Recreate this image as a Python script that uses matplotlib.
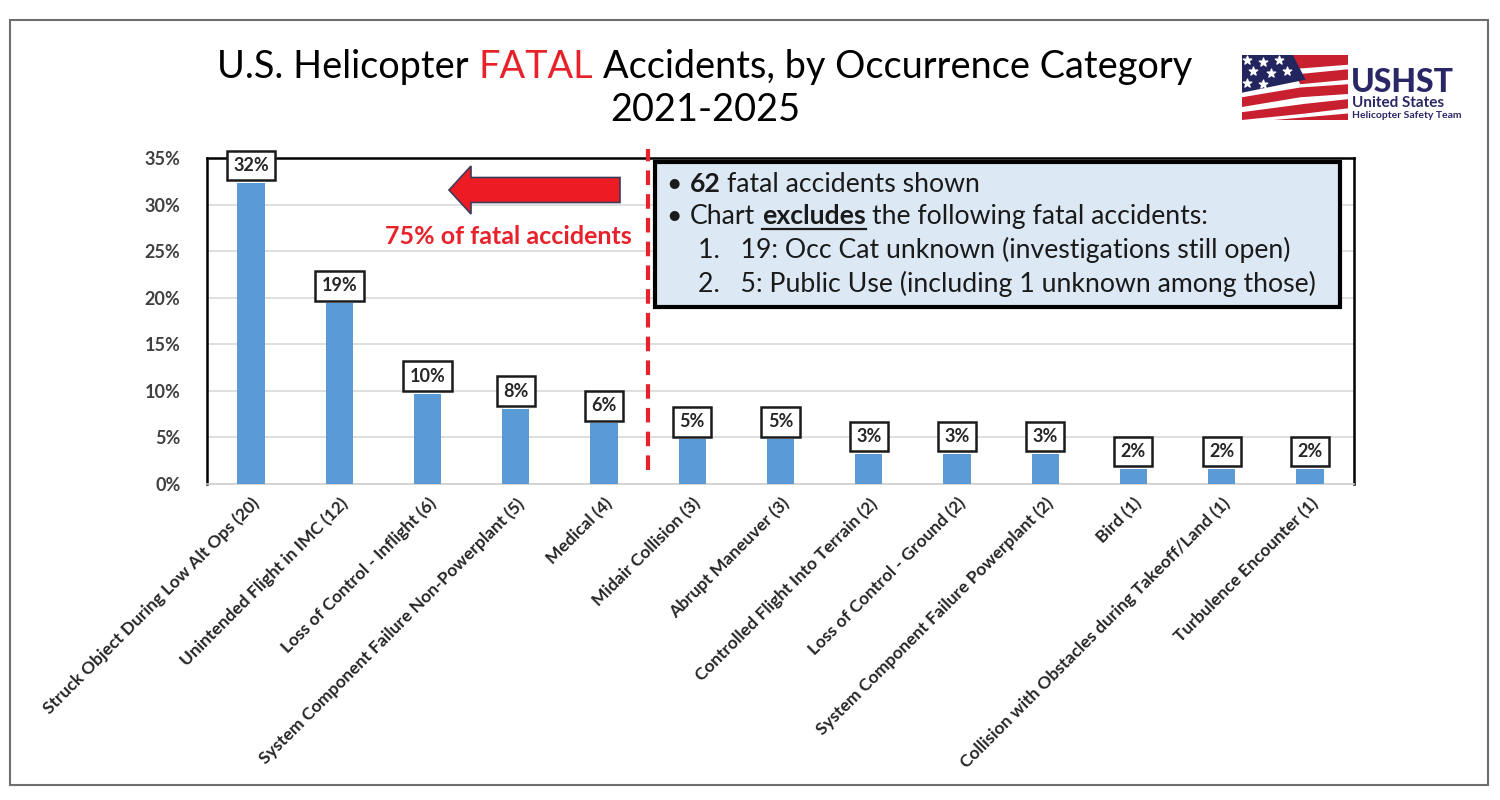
import matplotlib.pyplot as plt
from matplotlib.patches import Rectangle, Polygon, FancyArrow
from matplotlib.lines import Line2D

plt.rcParams['font.family'] = ['Lato', 'DejaVu Sans']

# Datos
categorias = ["Struck Object During Low Alt Ops (20)", "Unintended Flight in IMC (12)",
              "Loss of Control - Inflight (6)", "System Component Failure Non-Powerplant (5)",
              "Medical (4)", "Midair Collision (3)", "Abrupt Maneuver (3)",
              "Controlled Flight Into Terrain (2)", "Loss of Control - Ground (2)",
              "System Component Failure Powerplant (2)", "Bird (1)",
              "Collision with Obstacles during Takeoff/Land (1)", "Turbulence Encounter (1)"]
porcentajes = [32.3, 19.4, 9.7, 8.1, 6.5, 4.8, 4.8, 3.2, 3.2, 3.2, 1.6, 1.6, 1.6]
etiquetas = ["32%", "19%", "10%", "8%", "6%", "5%", "5%", "3%", "3%", "3%", "2%", "2%", "2%"]
yticks = [0, 5, 10, 15, 20, 25, 30, 35]

W, H = 1500, 800
fig = plt.figure(figsize=(15, 8), dpi=100)
r = fig.canvas.get_renderer()

def fx(px):
    return px / W

def fy(py):
    return 1 - py / H

def ancho_espacio(size, **kw):
    a = fig.text(0, 0, "a a", fontsize=size, **kw)
    b = fig.text(0, 0, "aa", fontsize=size, **kw)
    g = a.get_window_extent(r).width - b.get_window_extent(r).width
    a.remove()
    b.remove()
    return g

# marco exterior
fig.patches.append(Rectangle((fx(10), fy(785)), fx(1488) - fx(10), fy(20) - fy(785),
                             transform=fig.transFigure, fill=False, ec='#6e6e6e', lw=1.5))

ax = fig.add_axes([fx(207), fy(484), fx(1354) - fx(207), fy(158) - fy(484)])
x = range(len(categorias))
ax.bar(x, porcentajes, width=0.31, color='#5b9bd5', zorder=3)
ax.set_xlim(-0.5, len(categorias) - 0.5)
ax.set_ylim(0, 35)
ax.set_yticks(yticks)
ax.set_yticklabels([f"{v}%" for v in yticks], fontsize=13, fontweight='bold', color='#404040')
ax.set_xticks(list(x))
ax.set_xticklabels(categorias, rotation=45, ha='right', rotation_mode='anchor',
                   fontsize=12.5, fontweight='bold', color='#262626')
ax.tick_params(length=0)
ax.tick_params(axis='y', pad=19)
ax.tick_params(axis='x', pad=8)
ax.yaxis.grid(True, color='#d9d9d9', lw=1.2, zorder=0)
for s in ['top', 'left', 'right']:
    ax.spines[s].set_color('black')
    ax.spines[s].set_linewidth(1.8)
ax.spines['bottom'].set_color('#d0d0d0')
ax.spines['bottom'].set_linewidth(1.2)

for i, (v, lab) in enumerate(zip(porcentajes, etiquetas)):
    ax.annotate(lab, (i, v), xytext=(0, 6.5), textcoords='offset points', ha='center', va='bottom',
                fontsize=13, fontweight='bold', color='#262626', zorder=5,
                bbox=dict(boxstyle='square,pad=0.35', fc='white', ec='#1a1a1a', lw=1.8))

# linea roja discontinua
ax.plot([4.5, 4.5], [1.5, 36.0], color='#e8222a', lw=3, ls=(0, (3.5, 2.2)), clip_on=False, zorder=4)

# flecha
fig.patches.append(FancyArrow(fx(620), fy(190), fx(449) - fx(620), 0, width=25 / H,
                              head_width=48 / H, head_length=22 / W, length_includes_head=True,
                              transform=fig.transFigure, fc='#ed1c24', ec='#3c3c5a', lw=1.2))
fig.text(fx(632), fy(236), "75% of fatal accidents", ha='right', va='center',
         fontsize=18, fontweight='bold', color='#e8222a')

# cuadro de texto
fig.patches.append(Rectangle((fx(655), fy(307)), fx(1340) - fx(655), fy(162) - fy(307),
                             transform=fig.transFigure, fc='#dce8f4', ec='black', lw=3, zorder=5))


def trozos(px, py, partes, size):
    # escribe trozos de texto uno tras otro sobre la misma linea base
    salida = []
    for txt, props, espacio in partes:
        t = fig.text(fx(px), fy(py), txt, va='baseline', fontsize=size, zorder=6, color='#1a1a1a', **props)
        bb = t.get_window_extent(r)
        px += bb.width
        if espacio:
            px += ancho_espacio(size, **props)
        salida.append((t, bb))
    return salida


fs = 19.2
fig.text(fx(666), fy(192), "•", fontsize=fs, va='baseline', zorder=6, color='#1a1a1a')
trozos(690, 192, [("62", {'fontweight': 'bold'}, True), ("fatal accidents shown", {}, False)], fs)
fig.text(fx(666), fy(224), "•", fontsize=fs, va='baseline', zorder=6, color='#1a1a1a')
res = trozos(690, 224, [("Chart", {}, True), ("excludes", {'fontweight': 'bold'}, True),
                        ("the following fatal accidents:", {}, False)], fs)
bb = res[1][1]
fig.add_artist(Line2D([bb.x0 / W, bb.x1 / W], [fy(229), fy(229)], color='#1a1a1a', lw=1.6, zorder=6))
fig.text(fx(698), fy(258), "1.   19: Occ Cat unknown (investigations still open)", fontsize=fs,
         va='baseline', zorder=6, color='#1a1a1a')
fig.text(fx(698), fy(292), "2.   5: Public Use (including 1 unknown among those)", fontsize=fs,
         va='baseline', zorder=6, color='#1a1a1a')

# titulo
tsize = 27.3
partes_t = [("U.S. Helicopter", 'black'), ("FATAL", '#e8222a'), ("Accidents, by Occurrence Category", 'black')]
ts = []
for txt, c in partes_t:
    ts.append(fig.text(0, fy(78), txt, fontsize=tsize, color=c, va='baseline'))
anchos = [t.get_window_extent(r).width for t in ts]
gap = ancho_espacio(tsize)
total = sum(anchos) + 2 * gap
x0 = 705 - total / 2
ts[0].set_x(fx(x0))
ts[1].set_x(fx(x0 + anchos[0] + gap))
ts[2].set_x(fx(x0 + anchos[0] + gap + anchos[1] + gap))
fig.text(fx(705), fy(121), "2021-2025", fontsize=tsize, ha='center', va='baseline', color='black')

# logo
axl = fig.add_axes([fx(1242), fy(120), fx(1348) - fx(1242), fy(55) - fy(120)])
axl.set_xlim(0, 1)
axl.set_ylim(0, 1)
axl.axis('off')
rayas = [((0.35, 1.0), (1.0, 1.0), (1.0, 0.85), (0.45, 0.78)),
         ((0.5, 0.7), (1.0, 0.78), (1.0, 0.62), (0.55, 0.55)),
         ((0.0, 0.35), (0.55, 0.5), (1.0, 0.55), (1.0, 0.4), (0.55, 0.35), (0.0, 0.2)),
         ((0.0, 0.12), (0.6, 0.25), (1.0, 0.32), (1.0, 0.18), (0.6, 0.1), (0.0, 0.0)),
         ((0.3, 0.0), (1.0, 0.1), (1.0, 0.0))]
for p in rayas:
    axl.add_patch(Polygon(p, closed=True, fc='#c8202f', ec='none'))
axl.add_patch(Polygon([(0, 1), (0.48, 1), (0.6, 0.62), (0.0, 0.42)], closed=True, fc='#23265e', ec='none'))
estrellas_x = [0.05, 0.2, 0.35, 0.1, 0.27, 0.42, 0.05, 0.2]
estrellas_y = [0.93, 0.9, 0.93, 0.75, 0.72, 0.75, 0.57, 0.55]
axl.scatter(estrellas_x, estrellas_y, marker='*', s=40, color='white', zorder=3)
fig.text(fx(1351), fy(92), "USHST", fontsize=23, fontweight='black', color='#2a2766', va='baseline')
fig.text(fx(1352), fy(107), "United States", fontsize=11, fontweight='bold', color='#2a2766', va='baseline')
fig.text(fx(1352), fy(118), "Helicopter Safety Team", fontsize=7.5, fontweight='bold', color='#2a2766', va='baseline')

fig.savefig("out.png", dpi=100)
